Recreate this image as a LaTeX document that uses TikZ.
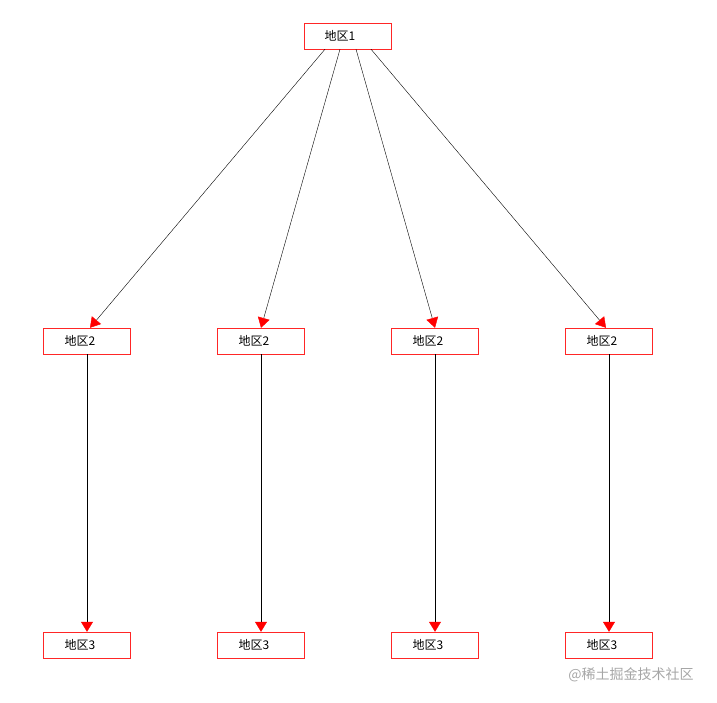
\documentclass[tikz,border=0pt]{standalone}
\usepackage{fontspec}
\setmainfont{Noto Sans CJK SC}
\usetikzlibrary{arrows.meta,positioning}

\begin{document}
\begin{tikzpicture}[x=1pt,y=-1pt,
        region/.style={draw=red!85,minimum width=87pt,minimum height=26pt,inner sep=0pt,font=\fontsize{12}{14}\selectfont},
        lbl/.style={font=\fontsize{12}{14}\selectfont},
        link/.style={-{Triangle[red,length=10pt,width=12pt]},shorten >=0pt}]

  \useasboundingbox (0,0) rectangle (717,703);

  \node[region] (top) at (348,36) {};
  \node[lbl] (toplbl) at (340,36) {地区1};
  \foreach \i/\x in {1/87,2/261,3/435,4/609} {
    \node[region] (mid\i) at (\x,341) {};
    \node[lbl] at ([xshift=-7pt]mid\i.center) {地区2};
    \node[region] (low\i) at (\x,645) {};
    \node[lbl] at ([xshift=-7pt]low\i.center) {地区3};
    \draw[link] (mid\i) -- (low\i);
  }

  \draw[link] ([xshift=-23pt]top.south) -- ([xshift=3pt]mid1.north);
  \draw[link] ([xshift=-8pt]top.south) -- (mid2.north);
  \draw[link] ([xshift=8pt]top.south) -- (mid3.north);
  \draw[link] ([xshift=23pt]top.south) -- ([xshift=-3pt]mid4.north);

  \node[text=gray!70,font=\fontsize{14}{16}\selectfont] (mark) at (631,675) {@稀土掘金技术社区};

\end{tikzpicture}
\end{document}
